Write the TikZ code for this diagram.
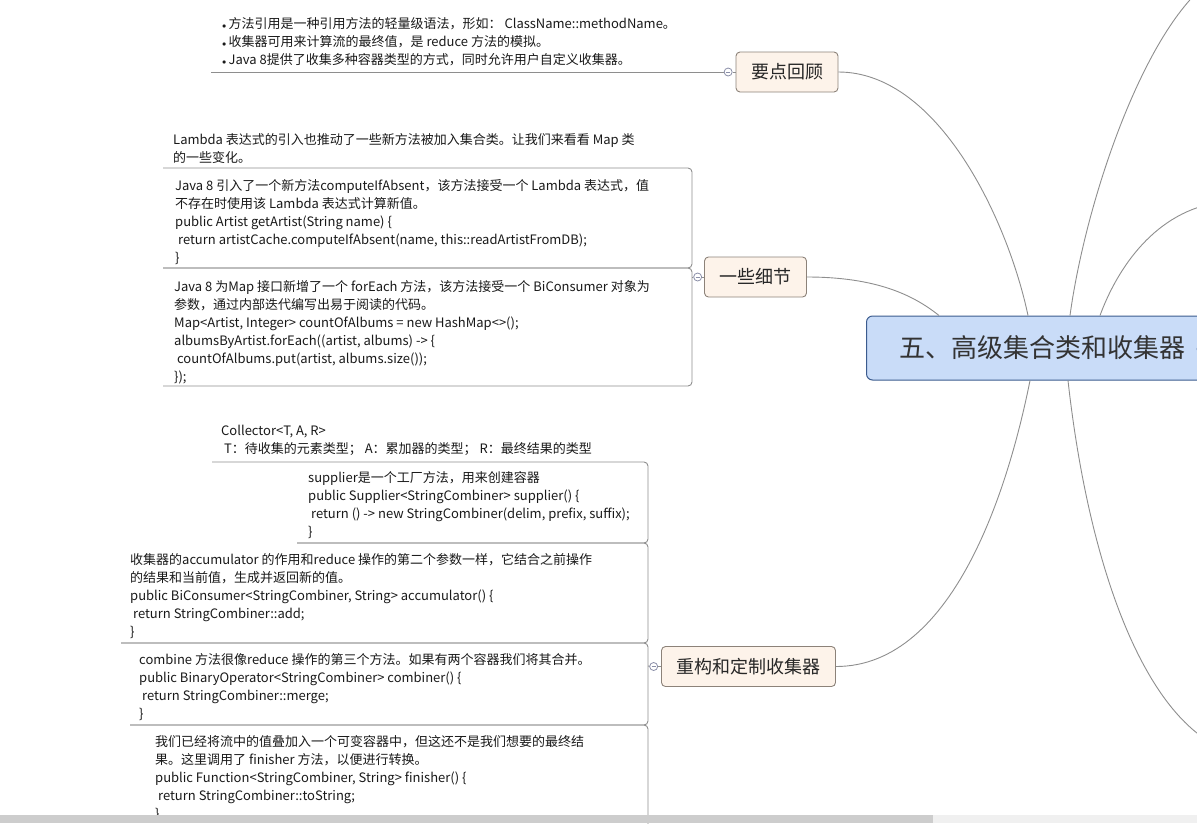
\documentclass[tikz,border=0pt]{standalone}
\usepackage{fontspec}
\setmainfont{Noto Sans CJK SC}
\usepackage{xcolor}
\usetikzlibrary{positioning}
\definecolor{branchfill}{HTML}{FDF3EA}
\definecolor{branchline}{HTML}{8C8279}
\definecolor{rootfill}{HTML}{C9DCF8}
\definecolor{rootline}{HTML}{3B5B8E}
\definecolor{wirecol}{HTML}{8E8E8E}
\definecolor{foldcol}{HTML}{8B8FA8}
\definecolor{barthumb}{HTML}{CDCDCD}
\definecolor{bartrack}{HTML}{F0F0F0}
\newcommand{\dotmark}{{\fontsize{8}{8}\selectfont$\bullet$}\,}
\tikzstyle{wire} = [draw=wirecol, line width=0.9pt]
\tikzstyle{frame} = [draw=wirecol, line width=0.9pt, rounded corners=4pt]
\tikzstyle{root} = [rectangle, rounded corners=6pt, draw=rootline, fill=rootfill, line width=1pt, minimum height=64pt, anchor=west, inner xsep=33pt, text=black!80, font=\fontsize{26}{30}\selectfont]
\tikzstyle{branch} = [rectangle, rounded corners=4pt, draw=branchline, fill=branchfill, line width=0.9pt, minimum height=40pt, inner xsep=15pt, text=black!85, font=\fontsize{18}{20}\selectfont]
\tikzstyle{fold} = [circle, draw=foldcol, fill=white, line width=0.8pt, inner sep=0pt, minimum size=8pt]
\tikzstyle{note} = [anchor=north west, inner sep=0pt, align=left, text=black!90, font=\fontsize{13}{18}\selectfont, execute at begin node=\strut]

\begin{document}
\begin{tikzpicture}[x=1pt, y=-1pt]
\useasboundingbox (0,0) rectangle (1197,823);
\clip (0,0) rectangle (1197,823);

% Central topic
\node (root) [root] at (866,348) {五、高级集合类和收集器};
\node (rootfold) [fold, draw=rootline] at (1201,349) {};

% Off-screen branches
\coordinate (upA) at (1205,-15);
\coordinate (upB) at (1215,203);
\coordinate (downB) at (1215,745);

% Branch: recap
\node (recap) [branch] at (787,72) {要点回顾};
\node (recapfold) [fold, left=3pt of recap] {};
\coordinate (recapend) at (211,72);
\node (recapnote) [note] at (222,17) {\dotmark 方法引用是一种引用方法的轻量级语法，形如： ClassName::methodName。\\
\dotmark 收集器可用来计算流的最终值，是 reduce 方法的模拟。\\
\dotmark Java 8提供了收集多种容器类型的方式，同时允许用户自定义收集器。};

% Branch: details
\node (details) [branch] at (755.5,277) {一些细节};
\node (detailsfold) [fold, left=2pt of details] {};
\coordinate (detailsbar) at (692,277);
\node (intronote) [note] at (173,133) {Lambda 表达式的引入也推动了一些新方法被加入集合类。让我们来看看 Map 类\\
的一些变化。};
\node (absentnote) [note] at (175,179) {Java 8 引入了一个新方法computeIfAbsent，该方法接受一个 Lambda 表达式，值\\
不存在时使用该 Lambda 表达式计算新值。\\
public Artist getArtist(String name) \{\\
\ return artistCache.computeIfAbsent(name, this::readArtistFromDB);\\
\}};
\node (eachnote) [note] at (174,280) {Java 8 为Map 接口新增了一个 forEach 方法，该方法接受一个 BiConsumer 对象为\\
参数，通过内部迭代编写出易于阅读的代码。\\
Map<Artist, Integer> countOfAlbums = new HashMap<>();\\
albumsByArtist.forEach((artist, albums) -> \{\\
\ countOfAlbums.put(artist, albums.size());\\
\});};
\draw [frame] (163,168) -- (692,168) -- (692,268) -- (163,268);
\draw [frame] (163,268) -- (692,268) -- (692,386) -- (163,386);

% Branch: rework
\node (rework) [branch] at (748.5,666.5) {重构和定制收集器};
\node (reworkfold) [fold, left=3pt of rework] {};
\coordinate (reworkbar) at (648,666);
\node (collnote) [note] at (221,425) {Collector<T, A, R>\\
\ T：待收集的元素类型； A：累加器的类型； R：最终结果的类型};
\node (suppnote) [note] at (308,471) {supplier是一个工厂方法，用来创建容器\\
public Supplier<StringCombiner> supplier() \{\\
\ return () -> new StringCombiner(delim, prefix, suffix);\\
\}};
\node (accnote) [note] at (130,553) {收集器的accumulator 的作用和reduce 操作的第二个参数一样，它结合之前操作\\
的结果和当前值，生成并返回新的值。\\
public BiConsumer<StringCombiner, String> accumulator() \{\\
\ return StringCombiner::add;\\
\}};
\node (combnote) [note] at (139,653) {combine 方法很像reduce 操作的第三个方法。如果有两个容器我们将其合并。\\
public BinaryOperator<StringCombiner> combiner() \{\\
\ return StringCombiner::merge;\\
\}};
\node (finnote) [note] at (155,735) {我们已经将流中的值叠加入一个可变容器中，但这还不是我们想要的最终结\\
果。这里调用了 finisher 方法，以便进行转换。\\
public Function<StringCombiner, String> finisher() \{\\
\ return StringCombiner::toString;\\
\}};
\draw [frame] (212,462) -- (648,462) -- (648,543) -- (297,543);
\draw [frame] (297,543) -- (648,543) -- (648,643) -- (121,643);
\draw [frame] (121,643) -- (648,643) -- (648,725) -- (130,725);
\draw [frame] (130,725) -- (648,725) -- (648,840);

% Fold connectors
\draw [wire] (recapfold) -- (recap);
\draw [wire] (recapfold) -- (recapend);
\draw [wire] (detailsfold) -- (details);
\draw [wire] (detailsfold) -- (detailsbar);
\draw [wire] (reworkfold) -- (rework);
\draw [wire] (reworkfold) -- (reworkbar);
\foreach \f in {recapfold, detailsfold, reworkfold, rootfold}
  \draw [draw=foldcol, line width=0.7pt] ([xshift=-2]\f.center) -- ([xshift=2]\f.center);

% Curves to the central topic
\draw [wire] (recap.east) .. controls +(100,0) and +(-20,-95) .. ([xshift=162]root.north west);
\draw [wire] (details.east) .. controls +(70,0) and +(-25,-20) .. ([xshift=73]root.north west);
\draw [wire] ([xshift=204]root.north west) .. controls +(15,-110) and +(-65,55) .. (upA);
\draw [wire] ([xshift=234]root.north west) .. controls +(15,-41) and +(-65,12) .. (upB);
\draw [wire] (rework.east) .. controls +(120,0) and +(-20,100) .. ([xshift=164]root.south west);
\draw [wire] ([xshift=202]root.south west) .. controls +(20,180) and +(-75,-40) .. (downB);

% Scroll bar
\fill [bartrack] (0,815) rectangle (1197,823);
\fill [barthumb] (0,815) rectangle (933,823);

\end{tikzpicture}
\end{document}
